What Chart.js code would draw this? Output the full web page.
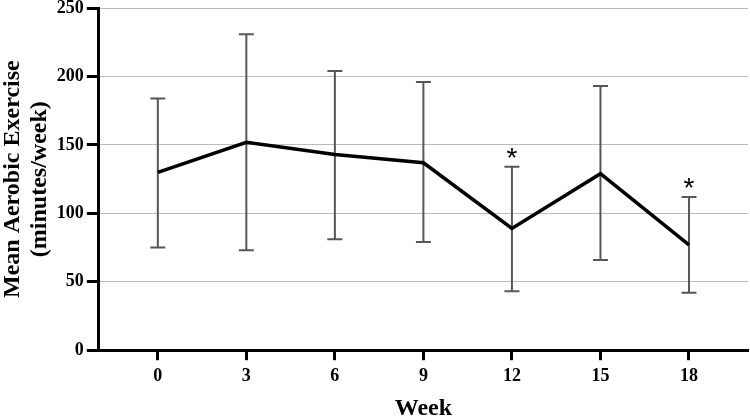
<!DOCTYPE html>
<html>
<head>
<meta charset="utf-8">
<script src="https://cdn.jsdelivr.net/npm/chart.js@4"></script>
<style>
  html, body { margin: 0; padding: 0; background: #fff; }
  #wrap { width: 750px; height: 418px; }
</style>
</head>
<body>
<div id="wrap"><canvas id="chart"></canvas></div>
<script>
// données
const weeks = [0, 3, 6, 9, 12, 15, 18];
const meanMinutes = [130, 152, 143, 137, 89, 129, 77];
const upperBar = [184, 231, 204, 196, 134, 193, 112];
const lowerBar = [75, 73, 81, 79, 43, 66, 42];
const starWeeks = [12, 18];
const yTicks = [0, 50, 100, 150, 200, 250];

const serif = '"Liberation Serif", "Times New Roman", serif';

// barres d'erreur + astérisques, dessinées via les échelles du graphique
const errorBars = {
  id: 'errorBars',
  beforeDatasetsDraw(chart) {
    const { ctx, scales: { x, y } } = chart;
    ctx.save();
    ctx.strokeStyle = '#575757';
    ctx.lineWidth = 2;
    weeks.forEach((w, i) => {
      const px = x.getPixelForValue(w);
      const top = y.getPixelForValue(upperBar[i]);
      const bot = y.getPixelForValue(lowerBar[i]);
      ctx.beginPath();
      ctx.moveTo(px, top); ctx.lineTo(px, bot);
      ctx.moveTo(px - 7.5, top); ctx.lineTo(px + 7.5, top);
      ctx.moveTo(px - 7.5, bot); ctx.lineTo(px + 7.5, bot);
      ctx.stroke();
    });
    ctx.restore();
  },
  afterDatasetsDraw(chart) {
    const { ctx, scales: { x, y } } = chart;
    ctx.save();
    ctx.fillStyle = '#000';
    ctx.font = '28px "Liberation Sans", Arial, sans-serif';
    ctx.textAlign = 'center';
    ctx.textBaseline = 'alphabetic';
    starWeeks.forEach((w) => {
      const i = weeks.indexOf(w);
      const px = x.getPixelForValue(w);
      const top = y.getPixelForValue(upperBar[i]);
      ctx.fillText('*', px, top);
    });
    ctx.restore();
  },
};

new Chart(document.getElementById('chart'), {
  type: 'line',
  data: {
    datasets: [{
      data: weeks.map((w, i) => ({ x: w, y: meanMinutes[i] })),
      borderColor: '#000',
      borderWidth: 3.5,
      pointRadius: 0,
      tension: 0,
      fill: false,
    }],
  },
  options: {
    responsive: true,
    maintainAspectRatio: false,
    animation: false,
    layout: { padding: { right: 2 } },
    plugins: { legend: { display: false }, tooltip: { enabled: false } },
    scales: {
      x: {
        type: 'linear',
        min: -2,
        max: 20,
        afterBuildTicks: (s) => { s.ticks = weeks.map((v) => ({ value: v })); },
        grid: { drawOnChartArea: false, drawTicks: true, tickLength: 10, tickWidth: 3, tickColor: '#000' },
        border: { display: true, color: '#000', width: 3 },
        ticks: { color: '#000', padding: 5, font: { family: serif, size: 18, weight: 'bold' } },
        title: {
          display: true, text: 'Week', color: '#000',
          font: { family: serif, size: 24, weight: 'bold', lineHeight: 0.8 },
          padding: { top: 7, bottom: 0 },
        },
      },
      y: {
        min: 0,
        max: 250,
        afterBuildTicks: (s) => { s.ticks = yTicks.map((v) => ({ value: v })); },
        grid: { color: '#bcbcbc', lineWidth: 1, drawTicks: true, tickLength: 12, tickWidth: 3, tickColor: '#000' },
        border: { display: true, color: '#000', width: 3 },
        ticks: { color: '#000', padding: 3, font: { family: serif, size: 18, weight: 'bold', lineHeight: 0.57 } },
        title: {
          display: true, text: ['Mean Aerobic Exercise', '(minutes/week)'], color: '#000',
          font: { family: serif, size: 24, weight: 'bold', lineHeight: 1.1 },
          padding: { top: 0, bottom: 1 },
        },
      },
    },
  },
  plugins: [errorBars],
});
</script>
</body>
</html>
